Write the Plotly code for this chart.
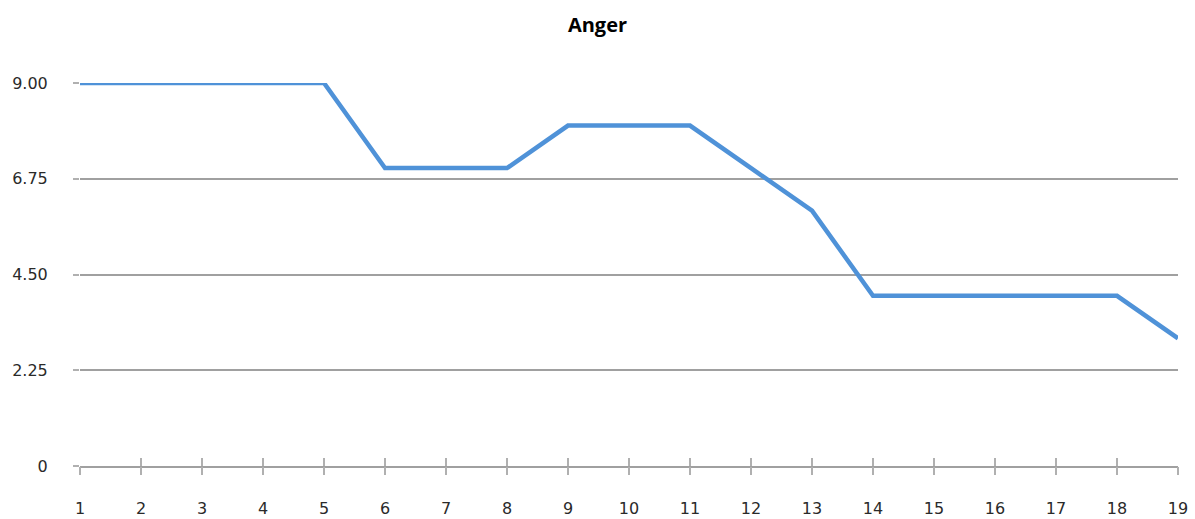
import plotly.graph_objects as go

points = list(range(1, 20))
anger = [9, 9, 9, 9, 9, 7, 7, 7, 8, 8, 8, 7, 6, 4, 4, 4, 4, 4, 3]
y_tick_vals = [0, 2.25, 4.5, 6.75, 9]
y_tick_text = ["0", "2.25", "4.50", "6.75", "9.00"]
x_tick_text = [str(p) for p in points]

fig = go.Figure()
fig.add_trace(go.Scatter(x=points, y=anger, mode="lines",
                         line=dict(color="#4f92d8", width=4.5),
                         cliponaxis=False, showlegend=False, hoverinfo="skip"))
fig.add_trace(go.Scatter(x=points, y=anger, mode="lines", xaxis="x2",
                         line=dict(color="rgba(0,0,0,0)", width=0),
                         showlegend=False, hoverinfo="skip"))

font_ticks = dict(family="DejaVu Sans, sans-serif", size=16, color="#2a2a2a")

fig.update_layout(
    width=1195, height=519,
    paper_bgcolor="white", plot_bgcolor="white",
    margin=dict(l=80, r=17, t=83, b=53),
    title=dict(text="<b>Anger</b>", x=0.5, xanchor="center", y=0.952, yanchor="middle",
               font=dict(family="Open Sans, Liberation Sans, sans-serif", size=20, color="black")),
    xaxis=dict(range=[1, 19], tickvals=points, ticktext=x_tick_text, automargin=False,
               showgrid=False, zeroline=False, showline=True, linecolor="#a0a0a0", linewidth=2,
               ticks="inside", ticklen=8, tickwidth=2, tickcolor="#b0b0b0",
               ticklabeloverflow="allow",
               tickfont=font_ticks, ticklabelstandoff=27),
    xaxis2=dict(range=[1, 19], tickvals=points, overlaying="x", side="bottom", anchor="y",
                automargin=False,
                showgrid=False, zeroline=False, showline=False, showticklabels=False,
                ticks="outside", ticklen=8, tickwidth=2, tickcolor="#b0b0b0"),
    yaxis=dict(range=[0, 9], tickvals=y_tick_vals, ticktext=y_tick_text, automargin=False,
               showgrid=True, gridcolor="#a0a0a0", gridwidth=1.8, zeroline=False,
               showline=False, ticks="outside", ticklen=6, tickwidth=1.5, tickcolor="#b0b0b0",
               tickfont=font_ticks, ticklabelstandoff=22),
)

fig.write_html("out.html", config={"displayModeBar": False},
               post_script="document.body.style.margin='0';")
